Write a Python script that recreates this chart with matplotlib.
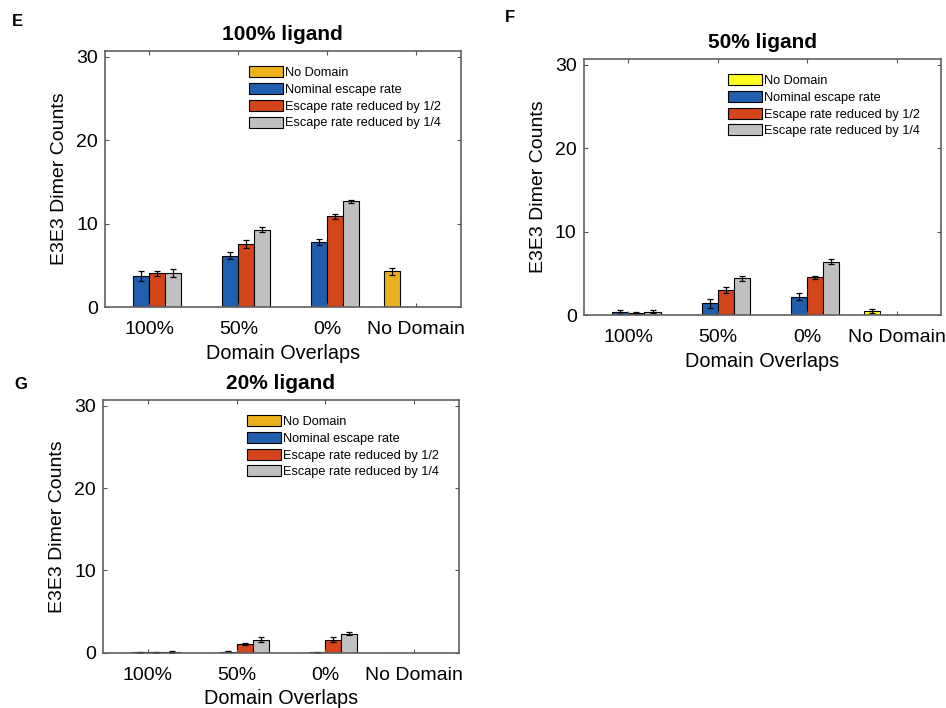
import matplotlib.pyplot as plt
import numpy as np

plt.rcParams['font.family'] = ['Liberation Sans', 'DejaVu Sans']

categories = ['100%', '50%', '0%', 'No Domain']
series_names = ['No Domain', 'Nominal escape rate',
                'Escape rate reduced by 1/2', 'Escape rate reduced by 1/4']

# panel E: 100% ligand
e_nodomain = [0, 0, 0, 4.3]
e_nominal = [3.7, 6.2, 7.8, 0]
e_half = [4.1, 7.6, 10.9, 0]
e_quarter = [4.1, 9.3, 12.7, 0]
e_nodomain_err = [0, 0, 0, 0.4]
e_nominal_err = [0.6, 0.4, 0.4, 0]
e_half_err = [0.3, 0.5, 0.3, 0]
e_quarter_err = [0.5, 0.3, 0.2, 0]

# panel F: 50% ligand
f_nodomain = [0, 0, 0, 0.5]
f_nominal = [0.35, 1.4, 2.2, 0]
f_half = [0.25, 3.0, 4.5, 0]
f_quarter = [0.4, 4.4, 6.4, 0]
f_nodomain_err = [0, 0, 0, 0.2]
f_nominal_err = [0.2, 0.5, 0.4, 0]
f_half_err = [0.15, 0.4, 0.2, 0]
f_quarter_err = [0.2, 0.3, 0.3, 0]

# panel G: 20% ligand
g_nodomain = [0, 0, 0, 0]
g_nominal = [0.05, 0.15, 0.05, 0]
g_half = [0.05, 1.1, 1.6, 0]
g_quarter = [0.1, 1.6, 2.3, 0]
g_nodomain_err = [0, 0, 0, 0]
g_nominal_err = [0.05, 0.05, 0.05, 0]
g_half_err = [0.1, 0.1, 0.3, 0]
g_quarter_err = [0.15, 0.3, 0.2, 0]

blue = '#1f5fae'
red = '#d4461a'
gray = '#c0c0c0'


def panel(ax, vals, errs, yellow, title):
    x = np.arange(1, len(categories) + 1)
    colors = [yellow, blue, red, gray]
    w = 0.18
    offs = [-0.27, -0.09, 0.09, 0.27]
    for v, e, c, o, name in zip(vals, errs, colors, offs, series_names):
        ax.bar(x + o, v, w, color=c, edgecolor='black', linewidth=0.8, label=name)
        v = np.array(v)
        e = np.array(e)
        m = v > 0
        ax.errorbar(x[m] + o, v[m], yerr=e[m], fmt='none', ecolor='black',
                    elinewidth=0.9, capsize=2.5, capthick=0.9)
    ax.set_xlim(0.5, 4.5)
    ax.set_ylim(0, 30.7)
    ax.set_xticks(x)
    ax.set_xticklabels(categories)
    ax.set_yticks([0, 10, 20, 30])
    ax.tick_params(direction='in', length=3, labelsize=14, top=True, right=True,
                   color='#555555')
    ax.tick_params(axis='x', pad=10)
    ax.tick_params(axis='y', pad=5)
    for s in ax.spines.values():
        s.set_color('#606060')
        s.set_linewidth(1.2)
    ax.set_xlabel('Domain Overlaps', fontsize=14.3, labelpad=4)
    ax.set_ylabel('E3E3 Dimer Counts', fontsize=14, labelpad=6)
    ax.set_title(title, fontsize=15, fontweight='bold', pad=8)
    ax.legend(loc='upper left', bbox_to_anchor=(0.39, 0.96), frameon=False,
              fontsize=9.2, handlelength=2.65, handleheight=0.95, labelspacing=0.3,
              handletextpad=0.15, borderaxespad=0)


fig = plt.figure(figsize=(9.46, 7.08), dpi=100)
ax_e = fig.add_axes([0.111, 0.566, 0.376, 0.362])
ax_f = fig.add_axes([0.617, 0.555, 0.378, 0.362])
ax_g = fig.add_axes([0.109, 0.078, 0.376, 0.357])

panel(ax_e, [e_nodomain, e_nominal, e_half, e_quarter],
      [e_nodomain_err, e_nominal_err, e_half_err, e_quarter_err],
      '#edb120', '100% ligand')
panel(ax_f, [f_nodomain, f_nominal, f_half, f_quarter],
      [f_nodomain_err, f_nominal_err, f_half_err, f_quarter_err],
      '#ffff22', '50% ligand')
panel(ax_g, [g_nodomain, g_nominal, g_half, g_quarter],
      [g_nodomain_err, g_nominal_err, g_half_err, g_quarter_err],
      '#edb120', '20% ligand')

fig.text(12 / 946, 1 - 22 / 708, 'E', fontsize=12, fontweight='bold', va='center')
fig.text(505 / 946, 1 - 18 / 708, 'F', fontsize=12, fontweight='bold', va='center')
fig.text(14 / 946, 1 - 385 / 708, 'G', fontsize=12, fontweight='bold', va='center')

fig.savefig('out.png', dpi=100)
